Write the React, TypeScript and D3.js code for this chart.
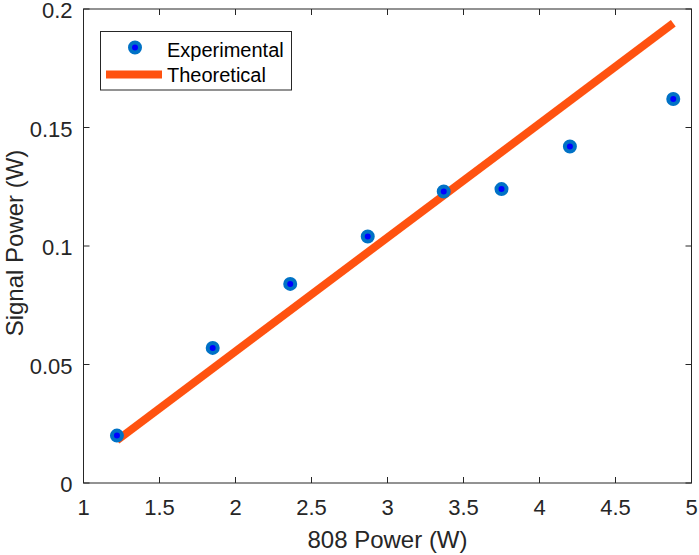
import React from "react";
import * as d3 from "d3";

const expX = [1.22, 1.85, 2.36, 2.87, 3.37, 3.75, 4.2, 4.88];
const expY = [0.02, 0.057, 0.084, 0.104, 0.123, 0.124, 0.142, 0.162];
const theoX = [1.22, 4.88];
const theoY = [0.018, 0.194];
const xTicks = [1, 1.5, 2, 2.5, 3, 3.5, 4, 4.5, 5];
const yTicks = [0, 0.05, 0.1, 0.15, 0.2];

const width = 699;
const height = 555;
const margin = { top: 9, right: 7.5, bottom: 72, left: 83.5 };
const axisColor = "#262626";
const font = "'Liberation Sans', Arial, sans-serif";

const App: React.FC = () => {
  const x = d3
    .scaleLinear()
    .domain([1, 5])
    .range([margin.left, width - margin.right]);
  const y = d3
    .scaleLinear()
    .domain([0, 0.2])
    .range([height - margin.bottom, margin.top]);

  const line = d3
    .line<number>()
    .x((d, i) => x(theoX[i]))
    .y(d => y(d));

  const x0 = x.range()[0];
  const x1 = x.range()[1];
  const y0 = y.range()[0];
  const y1 = y.range()[1];
  const tick = 6;

  return (
    <svg
      width={width}
      height={height}
      style={{ position: "absolute", left: 0, top: 0, background: "#fff" }}
      fontFamily={font}
    >
      {/* Theoretical line */}
      <path
        d={line(theoY) || ""}
        fill="none"
        stroke="#ff5210"
        strokeWidth={8}
      />

      {/* Experimental points */}
      {expX.map((v, i) => (
        <circle
          key={i}
          cx={x(v)}
          cy={y(expY[i])}
          r={5}
          fill="#0000ff"
          stroke="#0072c6"
          strokeWidth={4}
        />
      ))}

      {/* Axes box */}
      <rect
        x={x0}
        y={y1}
        width={x1 - x0}
        height={y0 - y1}
        fill="none"
        stroke={axisColor}
        strokeWidth={1}
      />

      {/* X ticks */}
      {xTicks.map(t => (
        <g key={"x" + t}>
          <line x1={x(t)} x2={x(t)} y1={y0} y2={y0 - tick} stroke={axisColor} />
          <line x1={x(t)} x2={x(t)} y1={y1} y2={y1 + tick} stroke={axisColor} />
          <text
            x={x(t)}
            y={y0 + 32}
            textAnchor="middle"
            fontSize={22}
            fill={axisColor}
          >
            {d3.format("~g")(t)}
          </text>
        </g>
      ))}

      {/* Y ticks */}
      {yTicks.map(t => (
        <g key={"y" + t}>
          <line x1={x0} x2={x0 + tick} y1={y(t)} y2={y(t)} stroke={axisColor} />
          <line x1={x1} x2={x1 - tick} y1={y(t)} y2={y(t)} stroke={axisColor} />
          <text
            x={x0 - 11}
            y={y(t) + 9}
            textAnchor="end"
            fontSize={22}
            fill={axisColor}
          >
            {d3.format("~g")(t)}
          </text>
        </g>
      ))}

      {/* Axis labels */}
      <text
        x={(x0 + x1) / 2}
        y={548}
        textAnchor="middle"
        fontSize={24}
        fill={axisColor}
      >
        808 Power (W)
      </text>
      <text
        transform={`translate(23,${(y0 + y1) / 2 - 3}) rotate(-90)`}
        textAnchor="middle"
        fontSize={24}
        fill={axisColor}
      >
        Signal Power (W)
      </text>

      {/* Legend */}
      <g>
        <rect
          x={100.5}
          y={31.5}
          width={191}
          height={58.5}
          fill="#fff"
          stroke={axisColor}
          strokeWidth={1}
        />
        <circle cx={135} cy={47.5} r={5} fill="#0000ff" stroke="#0072c6" strokeWidth={4} />
        <text x={167} y={56.5} fontSize={20} fill="#000">
          Experimental
        </text>
        <line x1={106} x2={162} y1={74.5} y2={74.5} stroke="#ff5210" strokeWidth={8} />
        <text x={167} y={82} fontSize={20} fill="#000">
          Theoretical
        </text>
      </g>
    </svg>
  );
};

export default App;
